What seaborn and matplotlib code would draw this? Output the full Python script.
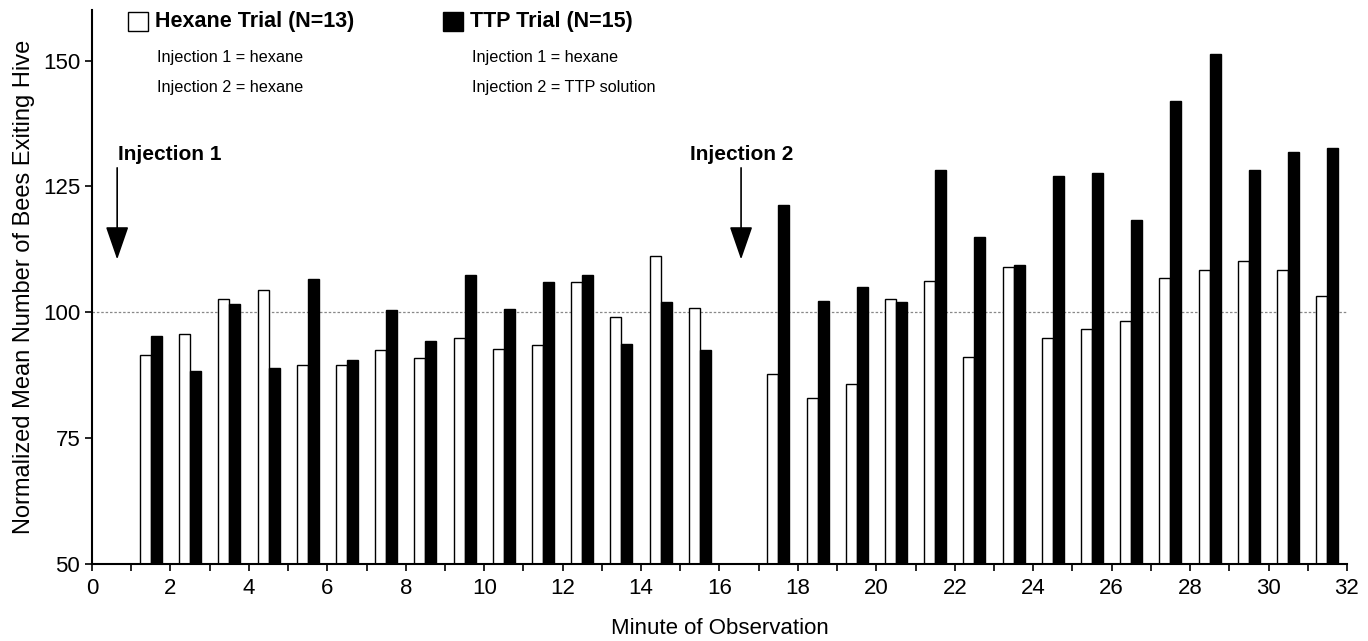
import matplotlib
import matplotlib.pyplot as plt
import numpy as np
import pandas as pd
import seaborn as sns
from matplotlib.patches import Rectangle
from matplotlib.ticker import MultipleLocator

matplotlib.use("Agg")

# ── Data ──────────────────────────────────────────────────────────────────────
# minute 16 is the second injection, so there is no pair of bars there
MINUTES = list(range(1, 16)) + list(range(17, 32))

HEXANE = [91.5, 95.6, 102.6, 104.5, 89.5, 89.5, 92.6, 91.0, 95.0, 92.8,
          93.5, 106.0, 99.1, 111.2, 100.9,
          87.8, 82.9, 85.7, 102.6, 106.3, 91.2, 109.1, 95.0, 96.6, 98.2,
          106.8, 108.4, 110.2, 108.4, 103.2]
TTP = [95.4, 88.3, 101.7, 88.9, 106.6, 90.5, 100.4, 94.4, 107.5, 100.7,
       106.0, 107.5, 93.7, 102.0, 92.6,
       121.4, 102.2, 105.1, 102.0, 128.3, 114.9, 109.4, 127.1, 127.6, 118.4,
       142.0, 151.4, 128.3, 131.9, 132.7]

TRIALS = ["Hexane", "TTP"]
COLORS = {"Hexane": "white", "TTP": "black"}

df = pd.DataFrame({
    "minute": np.array(MINUTES * 2) + 0.5,   # bars fill the minute interval
    "value": HEXANE + TTP,
    "trial": ["Hexane"] * len(HEXANE) + ["TTP"] * len(TTP),
})

sns.set_theme(style="ticks")
plt.rcParams["font.family"] = ["Liberation Sans", "DejaVu Sans"]
plt.rcParams["text.color"] = "black"

fig, ax = plt.subplots(figsize=(13.68, 6.41), dpi=100)
fig.subplots_adjust(left=0.0673, right=0.9846, bottom=0.12, top=0.984)

ax.axhline(100, color="#888888", lw=0.9, ls=(0, (2, 1.5)), zorder=0)

sns.barplot(
    data=df, x="minute", y="value", hue="trial", hue_order=TRIALS,
    palette=COLORS, native_scale=True, width=0.56, dodge=True,
    edgecolor="black", linewidth=1.0, legend=False, ax=ax,
)

ax.set_xlim(0, 32)
ax.set_ylim(50, 160)
ax.xaxis.set_major_locator(MultipleLocator(2))
ax.xaxis.set_minor_locator(MultipleLocator(1))
ax.set_yticks([50, 75, 100, 125, 150])
ax.tick_params(axis="both", which="both", direction="out", length=5,
               width=1.2, color="black", labelsize=16, labelcolor="black")
ax.tick_params(axis="x", pad=5)
for side in ("top", "right"):
    ax.spines[side].set_visible(False)
for side in ("left", "bottom"):
    ax.spines[side].set_color("black")
    ax.spines[side].set_linewidth(1.5)

ax.set_xlabel("Minute of Observation", fontsize=16, labelpad=14, color="black")
ax.set_ylabel("Normalized Mean Number of Bees Exiting Hive", fontsize=17,
              labelpad=6, color="black")

# injection markers
for label, x_arrow, x_text in [("Injection 1", 0.64, 0.66), ("Injection 2", 16.55, 15.24)]:
    ax.text(x_text, 131.3, label, fontsize=15, fontweight="bold", va="center", ha="left")
    ax.annotate("", xy=(x_arrow, 110.5), xytext=(x_arrow, 128.7),
                arrowprops=dict(arrowstyle="-|>,head_width=0.45,head_length=1.3",
                                color="black", lw=1.2, mutation_scale=16,
                                shrinkA=0, shrinkB=0))

# legend block at the top
legend_items = [
    ("white", "Hexane Trial (N=13)", ["Injection 1 = hexane", "Injection 2 = hexane"], 0.0936),
    ("black", "TTP Trial (N=15)", ["Injection 1 = hexane", "Injection 2 = TTP solution"], 0.3238),
]
for face, title, lines, x0 in legend_items:
    fig.patches.append(Rectangle((x0, 0.951), 0.0146, 0.031, transform=fig.transFigure,
                                 facecolor=face, edgecolor="black", lw=1.0))
    fig.text(x0 + 0.0197, 0.966, title, fontsize=15.5, fontweight="bold", va="center")
    fig.text(x0 + 0.0212, 0.911, lines[0], fontsize=11.7, va="center")
    fig.text(x0 + 0.0212, 0.863, lines[1], fontsize=11.7, va="center")

fig.savefig("out.png", dpi=100, facecolor="white")
plt.close(fig)
